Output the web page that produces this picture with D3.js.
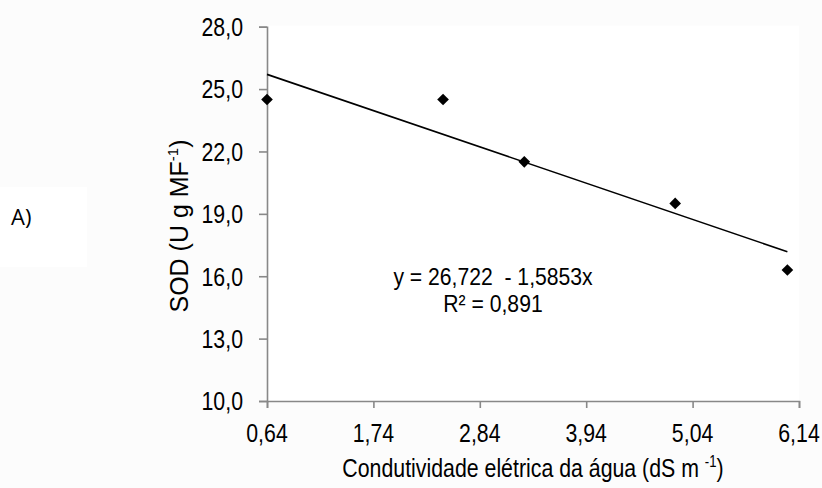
<!DOCTYPE html>
<html>
<head>
<meta charset="utf-8">
<script src="https://cdn.jsdelivr.net/npm/d3@7"></script>
<style>
  body { margin: 0; background: #fcfcfc; }
  svg { display: block; }
  text { font-family: "Liberation Sans", Arial, sans-serif; fill: #000; }
</style>
</head>
<body>
<div id="chart"></div>
<script>
// data
const condutividade = [0.64, 2.46, 3.30, 4.86, 6.02];
const sod = [24.5, 24.5, 21.5, 19.5, 16.3];
const xTicks = [0.64, 1.74, 2.84, 3.94, 5.04, 6.14];
const yTicks = [10, 13, 16, 19, 22, 25, 28];
const intercept = 26.722;
const slope = -1.5853;
const r2 = 0.891;

const width = 822;
const height = 488;
const margin = { top: 26.7, right: 23, bottom: 87, left: 267 };
const squash = 0.82; // horizontal text looks condensed

const fmt = (v, d) => v.toFixed(d).replace('.', ',');

const svg = d3
  .select('#chart')
  .append('svg')
  .attr('width', width)
  .attr('height', height);

const x = d3
  .scaleLinear()
  .domain([0.64, 6.14])
  .range([margin.left, width - margin.right]);

const y = d3
  .scaleLinear()
  .domain([10, 28])
  .range([height - margin.bottom, margin.top]);

// white backgrounds
svg
  .append('rect')
  .attr('x', x(0.64))
  .attr('y', y(28) - 1)
  .attr('width', x(6.14) - x(0.64))
  .attr('height', y(10) - y(28) + 1)
  .attr('fill', '#fff');

svg
  .append('rect')
  .attr('x', 0)
  .attr('y', 187)
  .attr('width', 87)
  .attr('height', 80)
  .attr('fill', '#fff');

const axisColor = '#888';

// x axis
const xAxis = svg
  .append('g')
  .attr('transform', `translate(0, ${y(10)})`)
  .call(d3.axisBottom(x).tickValues(xTicks).tickSize(7).tickFormat(''));

// y axis
const yAxis = svg
  .append('g')
  .attr('transform', `translate(${x(0.64)}, 0)`)
  .call(d3.axisLeft(y).tickValues(yTicks).tickSize(8).tickFormat(''));

[xAxis, yAxis].forEach((g) => {
  g.select('.domain').attr('stroke', axisColor).attr('stroke-width', 1.6);
  g.selectAll('.tick line').attr('stroke', axisColor).attr('stroke-width', 1.6);
});

// tick labels (condensed)
svg
  .append('g')
  .selectAll('g')
  .data(xTicks)
  .enter()
  .append('g')
  .attr('transform', (d) => `translate(${x(d)}, 442) scale(${squash}, 1)`)
  .append('text')
  .attr('text-anchor', 'middle')
  .style('font-size', '26px')
  .text((d) => fmt(d, 2));

svg
  .append('g')
  .selectAll('g')
  .data(yTicks)
  .enter()
  .append('g')
  .attr('transform', (d) => `translate(243, ${y(d) + 9.3}) scale(${squash}, 1)`)
  .append('text')
  .attr('text-anchor', 'end')
  .style('font-size', '26px')
  .text((d) => fmt(d, 1));

// x title
const xTitle = svg
  .append('g')
  .attr('transform', `translate(${(x(0.64) + x(6.14)) / 2}, 477) scale(${squash}, 1)`)
  .append('text')
  .attr('text-anchor', 'middle')
  .style('font-size', '26px');
xTitle.append('tspan').text('Condutividade elétrica da água (dS m ');
xTitle.append('tspan').attr('dy', -10).style('font-size', '16px').text('-1');
xTitle.append('tspan').attr('dy', 10).text(')');

// y title
const yTitle = svg
  .append('text')
  .attr('transform', `translate(188, 226) rotate(-90)`)
  .attr('text-anchor', 'middle')
  .style('font-size', '25px');
yTitle.append('tspan').text('SOD (U g MF');
yTitle.append('tspan').attr('dy', -10).style('font-size', '15px').text('-1');
yTitle.append('tspan').attr('dy', 10).text(')');

// panel letter
svg
  .append('text')
  .attr('x', 11)
  .attr('y', 225)
  .style('font-family', '"Open Sans", Lato, sans-serif')
  .style('font-size', '22px')
  .text('A)');

// trend line
const xMin = d3.min(condutividade);
const xMax = d3.max(condutividade);
svg
  .append('line')
  .attr('x1', x(xMin))
  .attr('y1', y(intercept + slope * xMin))
  .attr('x2', x(xMax))
  .attr('y2', y(intercept + slope * xMax))
  .attr('stroke', '#000')
  .attr('stroke-width', 1.6);

// points
const diamond = d3.symbol().type(d3.symbolSquare).size(68);
svg
  .append('g')
  .selectAll('path')
  .data(condutividade.map((c, i) => [c, sod[i]]))
  .enter()
  .append('path')
  .attr('d', diamond)
  .attr('transform', (d) => `translate(${x(d[0])}, ${y(d[1])}) rotate(45)`)
  .attr('fill', '#000');

// equation
const eqLines = [
  `y = ${fmt(intercept, 3)}  - ${fmt(-slope, 4)}x`,
  `R² = ${fmt(r2, 3)}`,
];
svg
  .append('g')
  .selectAll('g')
  .data(eqLines)
  .enter()
  .append('g')
  .attr('transform', (d, i) => `translate(493, ${285 + i * 27}) scale(0.9, 1)`)
  .append('text')
  .attr('text-anchor', 'middle')
  .style('font-size', '23.5px')
  .style('white-space', 'pre')
  .text((d) => d);
</script>
</body>
</html>
